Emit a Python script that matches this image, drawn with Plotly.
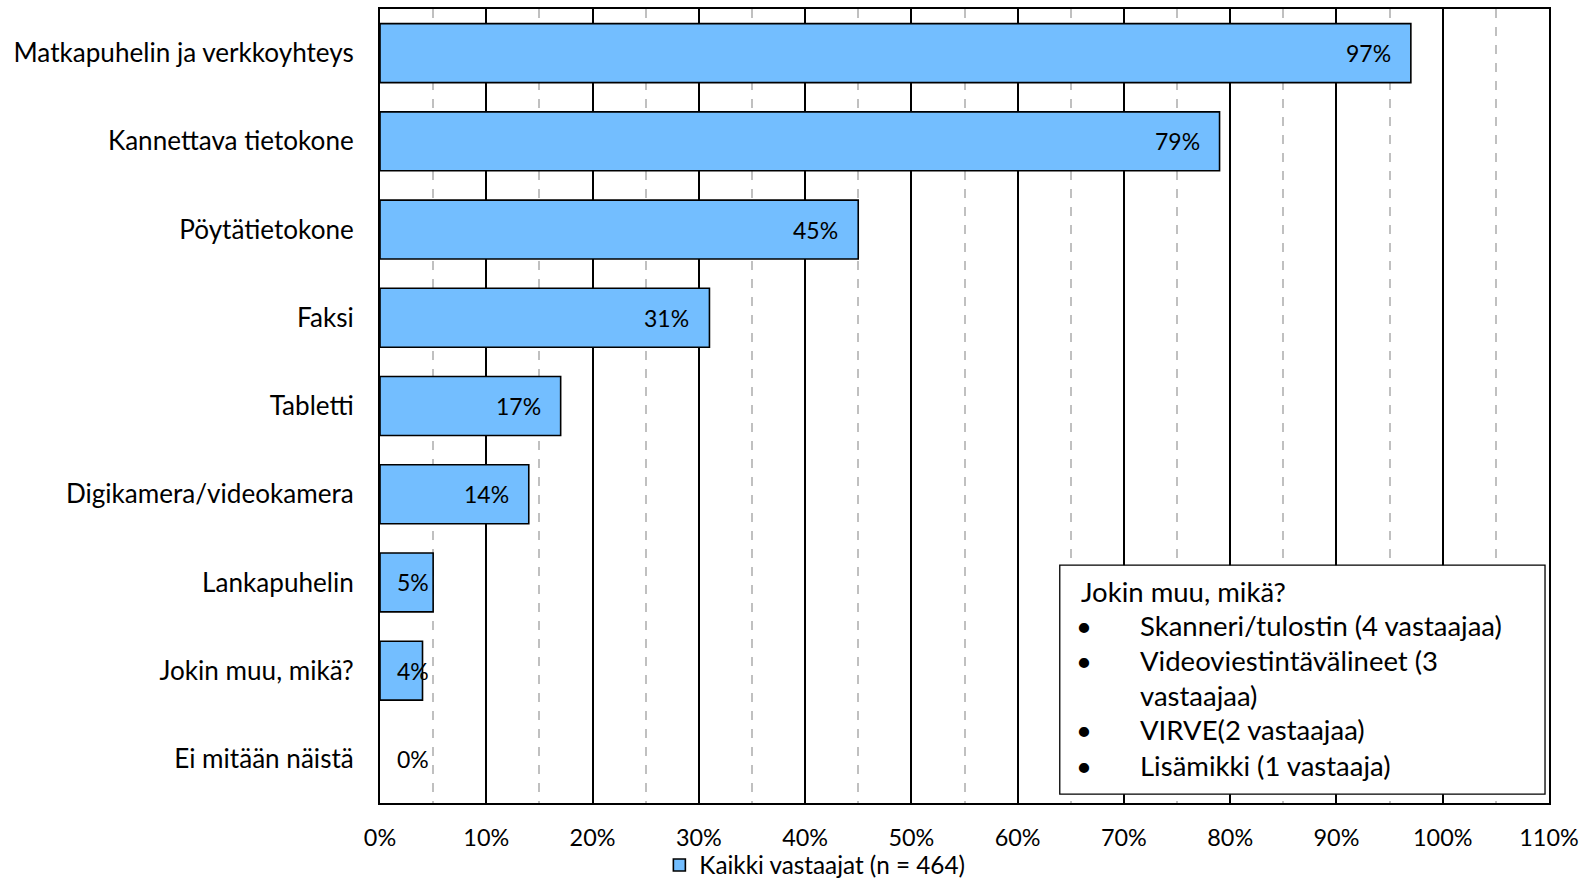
import plotly.graph_objects as go

categories = ["Matkapuhelin ja verkkoyhteys", "Kannettava tietokone", "Pöytätietokone", "Faksi",
              "Tabletti", "Digikamera/videokamera", "Lankapuhelin", "Jokin muu, mikä?", "Ei mitään näistä"]
values = [97, 79, 45, 31, 17, 14, 5, 4, 0]
value_labels = ["97%", "79%", "45%", "31%", "17%", "14%", "5%", "4%", "0%"]
series_name = "Kaikki vastaajat (n = 464)"
tick_vals = [0, 10, 20, 30, 40, 50, 60, 70, 80, 90, 100, 110]
tick_text = ["0%", "10%", "20%", "30%", "40%", "50%", "60%", "70%", "80%", "90%", "100%", "110%"]
box_title = "Jokin muu, mikä?"
box_lines = ["Skanneri/tulostin (4 vastaajaa)", "Videoviestintävälineet (3", "vastaajaa)",
             "VIRVE(2 vastaajaa)", "Lisämikki (1 vastaaja)"]
box_bullets = [True, True, False, True, True]

FONT = "Lato"

fig = go.Figure()
fig.add_trace(go.Bar(
    y=categories, x=values, orientation="h", name=series_name,
    marker=dict(color="#73BEFF",
                line=dict(color="black", width=[1.6 if v > 0 else 0 for v in values])),
    width=0.668, showlegend=True,
))

for c, v, t in zip(categories, values, value_labels):
    fig.add_annotation(x=max(v, 6.5), y=c, text=t, xref="x", yref="y",
                       xanchor="right", yanchor="middle", xshift=-18, showarrow=False,
                       font=dict(family=FONT, size=23, color="black"))

# comment box
fig.add_shape(type="rect", xref="paper", yref="paper", x0=0.5815, x1=0.9966, y0=0.0111, y1=0.2995,
              line=dict(color="black", width=1.3), fillcolor="white", layer="above")
fig.add_annotation(x=0.598, y=0.266, xref="paper", yref="paper", text=box_title, showarrow=False,
                   xanchor="left", yanchor="middle", font=dict(family=FONT, size=27.5, color="black"))
line_y = [0.224, 0.180, 0.136, 0.092, 0.047]
for yy, item, b in zip(line_y, box_lines, box_bullets):
    if b:
        fig.add_annotation(x=0.6019, y=yy, xref="paper", yref="paper", text="•", showarrow=False,
                           xanchor="center", yanchor="middle", font=dict(family=FONT, size=27.5, color="black"))
    fig.add_annotation(x=0.6483, y=yy, xref="paper", yref="paper", text=item, showarrow=False,
                       xanchor="left", yanchor="middle", align="left",
                       font=dict(family=FONT, size=27.5, color="black"))

fig.update_layout(
    width=1587, height=895,
    margin=dict(l=380, r=38, t=7, b=80, pad=0),
    paper_bgcolor="white", plot_bgcolor="white",
    font=dict(family=FONT, size=23, color="black"),
    bargap=0.332,
    legend=dict(orientation="h", x=0.372, y=-0.05, xanchor="center", yanchor="top",
                bgcolor="rgba(0,0,0,0)",
                font=dict(family=FONT, size=24.3), itemwidth=30, traceorder="normal"),
    xaxis=dict(range=[0, 110], tickvals=tick_vals, ticktext=tick_text,
               showgrid=True, gridcolor="black", gridwidth=1.5,
               minor=dict(dtick=5, showgrid=True, gridcolor="#c0c0c0", griddash="dash", gridwidth=1.5),
               showline=True, linecolor="black", linewidth=2, mirror=True,
               ticks="", ticklabelstandoff=13, zeroline=False,
               tickfont=dict(family=FONT, size=23.4)),
    yaxis=dict(autorange="reversed", showline=True, linecolor="black", linewidth=2, mirror=True,
               ticks="", ticklabelstandoff=19, tickfont=dict(family=FONT, size=26.1), showgrid=False),
)

fig.write_html("out.html", config={"displayModeBar": False},
               post_script="document.documentElement.style.overflow='hidden';document.body.style.margin='0';document.body.style.overflow='hidden';")
